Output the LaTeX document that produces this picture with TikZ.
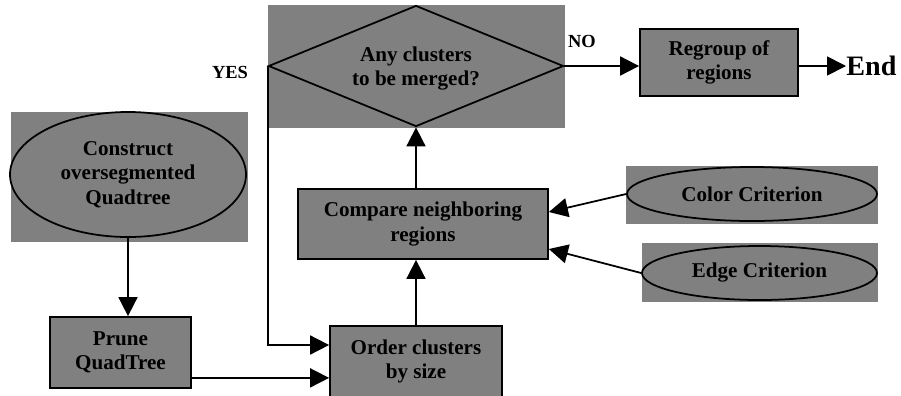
\documentclass[tikz,border=0pt]{standalone}
\usepackage{fontspec}
\setmainfont{Liberation Serif}
\usepackage{tikz}
\usetikzlibrary{arrows.meta}
\usetikzlibrary{shapes.geometric}
\newcommand{\boxfont}{\fontsize{12}{13.8}\selectfont\bfseries}
\tikzset{arr/.style = {line width = 1pt, -{Triangle[length=0.38cm, width=0.38cm]}}}
\tikzset{bg/.style = {fill = gray, inner sep = 0}}
\tikzset{box/.style = {draw, fill = gray, line width = 1pt, inner sep = 0,
                       align = center, font = \boxfont}}
\tikzset{oval/.style = {box, ellipse}}
\tikzset{tag/.style = {inner sep = 0, font = \fontsize{10.5}{12}\selectfont\bfseries}}

\begin{document}
\begin{tikzpicture}
      \useasboundingbox (0, 0) rectangle (18.02, -7.9);
      \node [bg, minimum width = 5.94cm, minimum height = 2.46cm] (decidebg) at (8.33, -1.33) {};
      \node [box, diamond, aspect = 2.44, minimum width = 5.9cm, minimum height = 2.42cm, text depth = -0.3cm] (decide) at (8.32, -1.32) {Any clusters\\to be merged?};
      \node [box, minimum width = 3.16cm, minimum height = 1.34cm] (regroup) at (14.38, -1.25) {Regroup of\\regions};
      \node [anchor = west, inner sep = 0, font = \fontsize{16}{18}\selectfont\bfseries] (endlbl) at (16.92, -1.32) {End};
      \node [bg, minimum width = 4.74cm, minimum height = 2.6cm] (constructbg) at (2.59, -3.54) {};
      \node [oval, minimum width = 4.72cm, minimum height = 2.5cm] (construct) at (2.56, -3.49) {Construct\\oversegmented\\Quadtree};
      \node [box, minimum width = 2.82cm, minimum height = 1.42cm] (prune) at (2.41, -7.05) {Prune\\QuadTree};
      \node [box, minimum width = 3.44cm, minimum height = 1.42cm] (order) at (8.32, -7.23) {Order clusters\\by size};
      \node [box, minimum width = 5cm, minimum height = 1.4cm] (compare) at (8.46, -4.48) {Compare neighboring\\regions};
      \node [bg, minimum width = 5.04cm, minimum height = 1.16cm] (colorbg) at (15.04, -3.9) {};
      \node [oval, minimum width = 5cm, minimum height = 1.08cm] (color) at (15.04, -3.88) {Color Criterion};
      \node [bg, minimum width = 4.72cm, minimum height = 1.18cm] (edgebg) at (15.2, -5.45) {};
      \node [oval, minimum width = 4.7cm, minimum height = 1.08cm] (edge) at (15.19, -5.46) {Edge Criterion};
      \node [tag] (yes) at (4.6, -1.44) {YES};
      \node [tag] (no) at (11.64, -0.82) {NO};
      \draw [arr] (construct.south) -- (construct.south |- prune.north);
      \draw [arr] ([yshift = 0.22cm]prune.south east) -- ([yshift = 0.22cm]prune.south east -| order.west);
      \draw [arr] (decide.west) |- ([yshift = 0.33cm]order.west);
      \draw [arr] (order.north) -- (order.north |- compare.south);
      \draw [arr] (compare.north -| decide.south) -- (decide.south);
      \draw [arr] (decide.east) -- (decide.east -| regroup.west);
      \draw [arr] (regroup.east |- decide.east) -- (endlbl.west);
      \draw [arr] (color.west) -- ([yshift = 0.24cm]compare.east);
      \draw [arr] (edge.west) -- ([yshift = -0.5cm]compare.east);
    \end{tikzpicture}
\end{document}
